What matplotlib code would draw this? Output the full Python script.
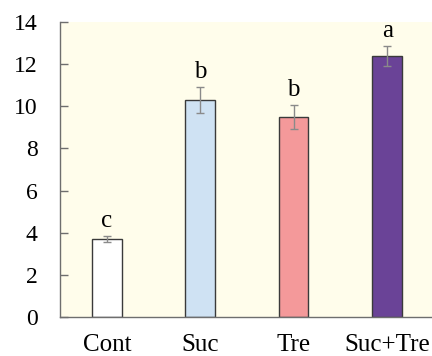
import matplotlib
matplotlib.use("Agg")
import matplotlib.pyplot as plt

# values
groups = ["Cont", "Suc", "Tre", "Suc+Tre"]
means = [3.70, 10.30, 9.48, 12.38]
errors = [0.16, 0.63, 0.57, 0.48]
letters = ["c", "b", "b", "a"]
colors = ["#FFFFFF", "#CFE2F3", "#F4999A", "#6A4397"]

plt.rcParams['font.family'] = ['Liberation Serif', 'DejaVu Serif']

fig = plt.figure(figsize=(4.32, 3.56), dpi=100)
ax = fig.add_axes([0.139, 0.1096, 0.861, 0.8284])
ax.set_facecolor("#FFFDEB")

x = range(len(groups))
ax.bar(x, means, width=0.316, color=colors, edgecolor="#3a3a3a", linewidth=1.0, zorder=2)
ax.errorbar(x, means, yerr=errors, fmt="none", ecolor="#8a8a8a", elinewidth=1.0,
            capsize=3, capthick=1.0, zorder=3)

for i, (m, e, lab) in enumerate(zip(means, errors, letters)):
    ax.annotate(lab, (i, m + e), xytext=(0, 3), textcoords="offset points",
                ha="center", va="bottom", fontsize=18)

ax.set_xlim(-0.5, 3.48)
ax.set_ylim(0, 14)
ax.set_yticks(range(0, 15, 2))
ax.set_xticks(list(x))
ax.set_xticklabels(groups)

for s in ["top", "right"]:
    ax.spines[s].set_visible(False)
ax.spines["left"].set_color("#6e6e6e")
ax.spines["bottom"].set_color("#6e6e6e")
ax.spines["left"].set_linewidth(1.0)
ax.spines["bottom"].set_linewidth(1.0)

ax.tick_params(axis="y", direction="in", length=6, width=1.0, color="#6e6e6e",
               labelsize=17, pad=16)
ax.tick_params(axis="x", length=0, labelsize=18, pad=12)

fig.savefig("out.png", dpi=100)
